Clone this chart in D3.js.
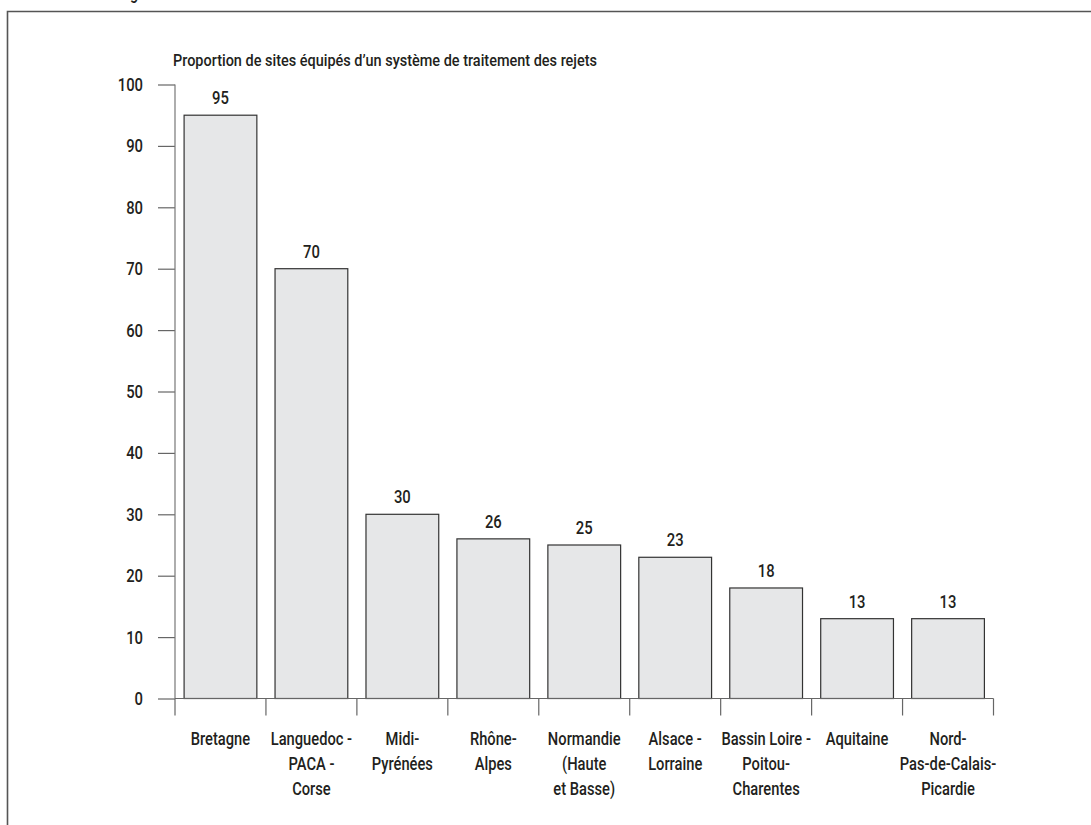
<!DOCTYPE html>
<html><head><meta charset="utf-8">
<script src="https://cdn.jsdelivr.net/npm/d3@7/dist/d3.min.js"></script>
<style>
body{margin:0;background:#fff;}
svg{display:block;}
text{font-family:Roboto,"Liberation Sans",sans-serif;font-weight:500;fill:#231f20;}
</style></head>
<body>
<svg id="c" width="1091" height="825"></svg>
<script>
const categories = [
  ["Bretagne"],
  ["Languedoc -","PACA -","Corse"],
  ["Midi-","Pyrénées"],
  ["Rhône-","Alpes"],
  ["Normandie","(Haute","et Basse)"],
  ["Alsace -","Lorraine"],
  ["Bassin Loire -","Poitou-","Charentes"],
  ["Aquitaine"],
  ["Nord-","Pas-de-Calais-","Picardie"]
];
const values = [95, 70, 30, 26, 25, 23, 18, 13, 13];
const yTicks = [0, 10, 20, 30, 40, 50, 60, 70, 80, 90, 100];
const title = "Proportion de sites équipés d’un système de traitement des rejets";

(function(){
const svg = d3.select("#c");
const mLeft = 175, mRight = 993.5, mTop = 84.5, mBottom = 698.5;

// condense text horizontally (narrow typeface look)
function condense(sel, k){
  sel.each(function(){
    const t = d3.select(this);
    const x = +t.attr("x") || 0, y = +t.attr("y") || 0;
    t.attr("x",0).attr("y",0).attr("transform",`translate(${x},${y}) scale(${k},1)`);
    t.selectAll("tspan").attr("x",0);
  });
}

// clipped fragment of a heading above the frame
const frag = svg.append("text").attr("x",130).attr("y",-1).attr("font-size",18).text("g");
condense(frag, 0.8);

// frame
svg.append("path").attr("d","M7.5,825 L7.5,11.5 L1091,11.5")
  .attr("fill","none").attr("stroke","#555").attr("stroke-width",1.6);

const idx = categories.map((d,i)=>i);
const x = d3.scaleBand().domain(idx).range([mLeft,mRight]).paddingInner(0.2).paddingOuter(0.1);
const y = d3.scaleLinear().domain([0,100]).range([mBottom,mTop]);

// title
svg.append("text").attr("x",173).attr("y",66).attr("font-size",17)
  .attr("textLength",424).attr("lengthAdjust","spacingAndGlyphs").text(title);

// y axis
const ya = svg.append("g").attr("transform",`translate(${mLeft},0)`)
  .call(d3.axisLeft(y).tickValues(yTicks).tickSize(17).tickPadding(15).tickFormat(d3.format("d")));
ya.attr("font-family",null).attr("font-size",null);
ya.select(".domain").remove();
ya.selectAll("line").attr("stroke","#666").attr("stroke-width",1.2);
ya.selectAll("text").attr("font-size",19).attr("fill","#231f20");
condense(ya.selectAll("text"), 0.78);
svg.append("line").attr("x1",mLeft).attr("x2",mLeft).attr("y1",mTop).attr("y2",mBottom)
  .attr("stroke","#777").attr("stroke-width",1.2);

// bars
svg.append("g").selectAll("rect").data(values).join("rect")
  .attr("x",(d,i)=>x(i)).attr("width",x.bandwidth())
  .attr("y",d=>y(d)).attr("height",d=>y(0)-y(d))
  .attr("fill","#e6e7e8").attr("stroke","#333").attr("stroke-width",1.2);

// baseline
svg.append("line").attr("x1",mLeft).attr("x2",mRight).attr("y1",mBottom).attr("y2",mBottom)
  .attr("stroke","#666").attr("stroke-width",1.2);

// category boundary ticks
const bounds = idx.map(i=>x(i)-x.step()*x.paddingOuter()).concat([mRight]);
svg.append("g").selectAll("line").data(bounds).join("line")
  .attr("x1",d=>d).attr("x2",d=>d).attr("y1",mBottom).attr("y2",mBottom+17)
  .attr("stroke","#666").attr("stroke-width",1.2);

// value labels
const vl = svg.append("g").selectAll("text").data(values).join("text")
  .attr("x",(d,i)=>x(i)+x.bandwidth()/2).attr("y",d=>y(d)-11)
  .attr("text-anchor","middle").attr("font-size",19).text(d=>d);
condense(vl, 0.78);

// category labels
const cl = svg.append("g").selectAll("text").data(categories).join("text")
  .attr("x",(d,i)=>x(i)+x.bandwidth()/2).attr("y",745)
  .attr("text-anchor","middle").attr("font-size",17.5);
cl.selectAll("tspan").data(d=>d).join("tspan")
  .attr("x",0).attr("dy",(d,i)=>i?25:0).text(d=>d);
condense(cl, 0.84);
})();
</script>
</body></html>
